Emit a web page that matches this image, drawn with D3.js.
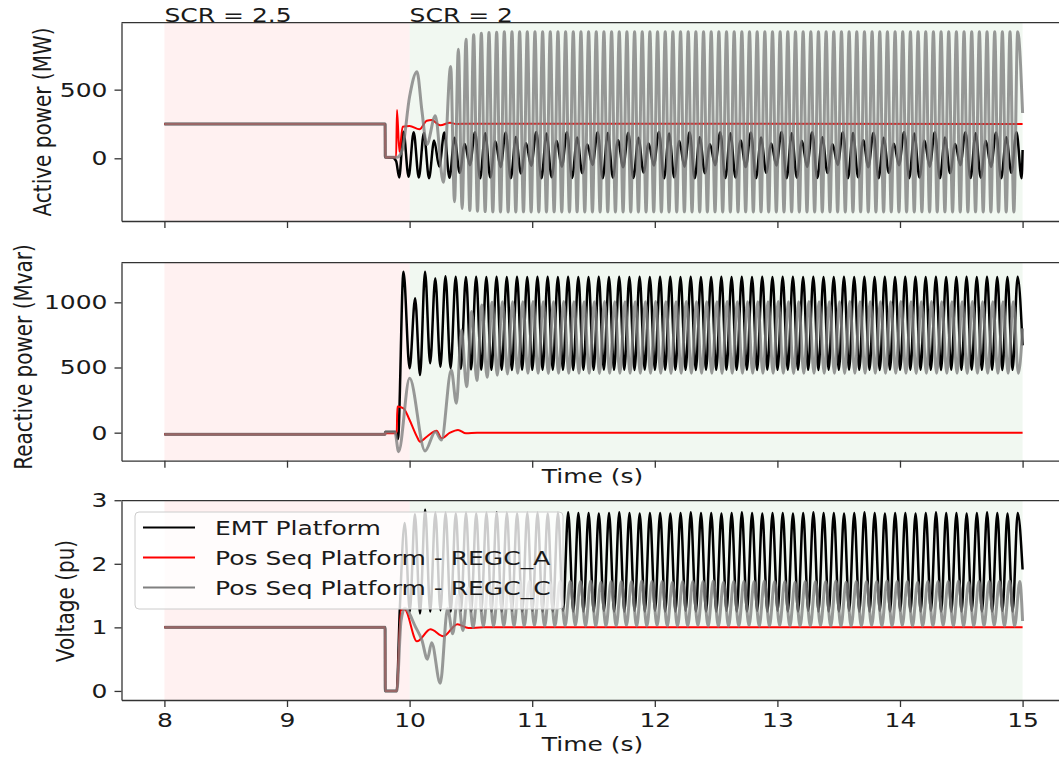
<!DOCTYPE html>
<html>
<head>
<meta charset="utf-8">
<script src="https://cdn.jsdelivr.net/npm/d3@7"></script>
<style>
  body { margin: 0; background: #fff; }
  svg text { font-family: "DejaVu Sans", sans-serif; }
</style>
</head>
<body>
<div id="chart"></div>
<script>
// ---- labels and ticks ----
const seriesNames = ['EMT Platform', 'Pos Seq Platform - REGC_A', 'Pos Seq Platform - REGC_C'];
const seriesColors = ['#000000', '#ff0000', '#808080'];
const timeTicks = [8, 9, 10, 11, 12, 13, 14, 15];
const pTicks = [0, 500];
const qTicks = [0, 500, 1000];
const vTicks = [0, 1, 2, 3];
const scrStarts = [8, 10];
const scrEnds = [10, 15];
const scrLabels = ['SCR = 2.5', 'SCR = 2'];

// sustained oscillations: extrema one half period apart (12 Hz, REGC_C active power 16 Hz)
const halfPeriod = 0.04167;
const pRegcCHalfPeriod = 0.03125;

// ---- active power (MW) ----
// transient points [time, value]
const pEmtKeys = [[8, 250], [9.8, 250], [9.801, 8], [9.86, 5], [9.89, -20], [9.915, -140]];
const pEmtStart = 9.95;
const pEmtSwing = [
  194, -134, 190, -140, 185, -146, 130, -60, 188, -142, 150, -105,
  105, -50, 190, -146, 182, -140, 125, -65, 188, -145, 155, -110,
  110, -55, 191, -146, 180, -138, 128, -62, 189, -144, 152, -108,
  100, -48, 190, -145, 184, -141, 132, -66, 187, -143, 150, -104,
  108, -52, 192, -146, 181, -139, 126, -61, 190, -145, 154, -109,
  103, -50, 189, -144, 183, -140, 130, -64, 188, -146, 151, -106,
  107, -53, 191, -145, 182, -141, 127, -63, 189, -144, 153, -107,
  102, -49, 190, -146, 185, -139, 131, -65, 187, -145, 150, -105,
  106, -51, 192, -145, 181, -140, 129, -62, 190, -146, 152, -108,
  104, -50, 190, -144, 183, -141, 128, -64, 188, -145, 154, -106,
  190, -145
];
const pEmtEnd = [15, 60];

const pRegcAKeys = [[8, 250], [9.8, 250], [9.801, 8], [9.89, 8], [9.897, 352], [9.917, 48], [9.943, 230],
  [10.0, 235], [10.08, 211], [10.14, 274], [10.18, 279], [10.25, 240], [10.33, 259], [10.38, 250],
  [10.5, 252], [15, 250]];

const pRegcCKeys = [[8, 250], [9.8, 250], [9.801, 8], [9.9, 8], [9.94, 60], [10.0, 450], [10.06, 631],
  [10.1, 350], [10.14, 100], [10.21, 310], [10.275, -175]];
const pRegcCStart = 10.335;
const pRegcCSwing = [
  668, -316, 794, -365, 867, -380, 899, -385, 910, -388, 916, -390, 919, -391, 921, -391,
  922, -391, 921, -390, 922, -391, 922, -391, 921, -391, 922, -390, 922, -391, 921, -391,
  922, -390, 922, -391, 921, -391, 922, -391, 922, -390, 921, -391, 922, -391, 922, -391,
  921, -391, 922, -391, 922, -390, 921, -391, 922, -391, 922, -391, 921, -390, 922, -391,
  922, -391, 921, -391, 922, -390, 922, -391, 921, -391, 922, -391, 922, -390, 921, -391,
  922, -390, 922, -391, 921, -391, 922, -391, 922, -390, 921, -391, 922, -391, 922, -391,
  921, -391, 922, -390, 922, -391, 921, -391, 922, -391, 922, -390, 921, -391, 922, -391,
  922, -391, 921, -390, 922, -391, 922, -391, 921, -391, 922, -390, 922, -391, 921, -391,
  922, -390, 922, -391, 921, -391, 922, -391, 922, -390, 921, -391, 922, -391, 922, -391,
  922, -391, 921, -391, 922
];
const pRegcCEnd = [15, 330];

// ---- reactive power (Mvar) ----
const qEmtKeys = [[8, -12], [9.8, -12], [9.801, 5], [9.89, 5], [9.905, -50], [9.95, 1235],
  [10.0, 494], [10.045, 1031], [10.085, 442]];
const qEmtStart = 10.126;
const qEmtSwing = [
  1235, 532, 1184, 506, 1200, 495, 1196, 490, 1195, 486, 1196, 484,
  1195, 482, 1197, 483, 1194, 481, 1196, 484, 1195, 482, 1196, 483,
  1196, 483, 1195, 482, 1197, 481, 1195, 483, 1194, 482, 1196, 484,
  1195, 482, 1197, 483, 1194, 481, 1196, 484, 1195, 482, 1196, 483,
  1196, 483, 1195, 482, 1197, 481, 1195, 483, 1194, 482, 1196, 484,
  1195, 482, 1197, 483, 1194, 481, 1196, 484, 1195, 482, 1196, 483,
  1196, 483, 1195, 482, 1197, 481, 1195, 483, 1194, 482, 1196, 484,
  1195, 482, 1197, 483, 1194, 481, 1196, 484, 1195, 482, 1196, 483,
  1196, 483, 1195, 482, 1197, 481, 1195, 483, 1194, 482, 1196, 484,
  1195, 482, 1196, 483, 1194, 481, 1195, 482, 1196
];
const qEmtEnd = [15, 670];

const qRegcAKeys = [[8, -12], [9.8, -12], [9.801, -5], [9.895, -5], [9.9, 200], [9.95, 187], [10.0, 97],
  [10.06, -31], [10.085, -69], [10.14, -31], [10.22, 15], [10.26, -43], [10.33, 0], [10.395, 21],
  [10.46, -5], [10.55, 0], [15, 0]];

const qRegcCKeys = [[8, -12], [9.8, -12], [9.801, 5], [9.88, 5], [9.91, -146], [10.0, 417],
  [10.126, -140], [10.21, 8], [10.26, -56]];
const qRegcCStart = 10.34;
const qRegcCSwing = [
  481, 225, 788, 353, 930, 400, 980, 425, 1000, 440, 1005, 450,
  1005, 455, 1004, 456, 1006, 455, 1005, 454, 1004, 455, 1006, 456,
  1004, 455, 1005, 456, 1005, 454, 1006, 455, 1004, 456, 1005, 455,
  1005, 455, 1004, 456, 1006, 455, 1005, 454, 1004, 455, 1006, 456,
  1004, 455, 1005, 456, 1005, 454, 1006, 455, 1004, 456, 1005, 455,
  1005, 455, 1004, 456, 1006, 455, 1005, 454, 1004, 455, 1006, 456,
  1004, 455, 1005, 456, 1005, 454, 1006, 455, 1004, 456, 1005, 455,
  1005, 455, 1004, 456, 1006, 455, 1005, 454, 1004, 455, 1006, 456,
  1004, 455, 1005, 456, 1005, 454, 1006, 455, 1004, 456, 1005, 455,
  1005, 455, 1004, 456
];
const qRegcCEnd = [15, 800];

// ---- voltage (pu) ----
const vEmtKeys = [[8, 1], [9.8, 1], [9.801, 0], [9.895, 0], [9.92, 1.28]];
const vEmtStart = 9.96;
const vEmtSwing = [
  2.64, 1.25, 2.78, 1.22, 2.85, 1.25, 2.8, 1.27, 2.8, 1.25, 2.79, 1.26,
  2.8, 1.25, 2.79, 1.26, 2.8, 1.25, 2.81, 1.25, 2.8, 1.26, 2.79, 1.25,
  2.8, 1.26, 2.8, 1.25, 2.79, 1.25, 2.8, 1.26, 2.81, 1.25, 2.8, 1.25,
  2.8, 1.25, 2.79, 1.26, 2.8, 1.25, 2.81, 1.25, 2.8, 1.26, 2.79, 1.25,
  2.8, 1.26, 2.8, 1.25, 2.79, 1.25, 2.8, 1.26, 2.81, 1.25, 2.8, 1.25,
  2.8, 1.25, 2.79, 1.26, 2.8, 1.25, 2.81, 1.25, 2.8, 1.26, 2.79, 1.25,
  2.8, 1.26, 2.8, 1.25, 2.79, 1.25, 2.8, 1.26, 2.81, 1.25, 2.8, 1.25,
  2.8, 1.25, 2.79, 1.26, 2.8, 1.25, 2.81, 1.25, 2.8, 1.26, 2.79, 1.25,
  2.8, 1.26, 2.8, 1.25, 2.79, 1.25, 2.8, 1.26, 2.81, 1.25, 2.8, 1.25,
  2.8, 1.25, 2.79, 1.26, 2.8, 1.25, 2.81, 1.25, 2.8, 1.26, 2.79, 1.25,
  2.8
];
const vEmtEnd = [15, 1.91];

const vRegcAKeys = [[8, 1], [9.8, 1], [9.801, 0], [9.895, 0], [9.93, 1.27], [9.96, 1.28], [10.06, 0.78],
  [10.17, 0.97], [10.275, 0.86], [10.39, 1.05], [10.48, 0.99], [10.6, 1.0], [15, 1]];

const vRegcCKeys = [[8, 1], [9.8, 1], [9.801, 0], [9.895, 0], [9.93, 1.1], [9.96, 1.3], [10.05, 1.0],
  [10.1, 0.8], [10.145, 0.5], [10.18, 0.76], [10.25, 0.12]];
const vRegcCStart = 10.31;
const vRegcCSwing = [
  1.3, 0.9, 1.5, 0.95, 1.62, 1.0, 1.68, 1.02, 1.71, 1.02, 1.72, 1.02,
  1.72, 1.02, 1.73, 1.02, 1.72, 1.03, 1.72, 1.02, 1.71, 1.02, 1.72, 1.02,
  1.72, 1.03, 1.72, 1.02, 1.73, 1.02, 1.71, 1.02, 1.72, 1.02, 1.72, 1.03,
  1.72, 1.02, 1.73, 1.02, 1.72, 1.03, 1.72, 1.02, 1.71, 1.02, 1.72, 1.02,
  1.72, 1.03, 1.72, 1.02, 1.73, 1.02, 1.71, 1.02, 1.72, 1.02, 1.72, 1.03,
  1.72, 1.02, 1.73, 1.02, 1.72, 1.03, 1.72, 1.02, 1.71, 1.02, 1.72, 1.02,
  1.72, 1.03, 1.72, 1.02, 1.73, 1.02, 1.71, 1.02, 1.72, 1.02, 1.72, 1.03,
  1.72, 1.02, 1.73, 1.02, 1.72, 1.03, 1.72, 1.02, 1.71, 1.02, 1.72, 1.02,
  1.72, 1.03, 1.72, 1.02, 1.73, 1.02, 1.71, 1.02, 1.72, 1.02, 1.72, 1.03,
  1.72, 1.02, 1.73, 1.02, 1.72
];
const vRegcCEnd = [15, 1.1];

// join transient points, the run of extrema and the last sample into one series
function buildSeries(keys, start, half, swing, end) {
  const pts = keys.map(([t, v]) => ({ t, v }));
  if (swing) {
    swing.forEach((v, i) => pts.push({ t: start + i * half, v }));
    pts.push({ t: end[0], v: end[1] });
  }
  return pts;
}

const panels = [
  {
    label: 'Active power (MW)', ticks: pTicks, top: 22.7, bottom: 221, labelX: 50.5, labelY: 122,
    series: [
      buildSeries(pEmtKeys, pEmtStart, halfPeriod, pEmtSwing, pEmtEnd),
      buildSeries(pRegcAKeys),
      buildSeries(pRegcCKeys, pRegcCStart, pRegcCHalfPeriod, pRegcCSwing, pRegcCEnd),
    ],
  },
  {
    label: 'Reactive power (Mvar)', ticks: qTicks, top: 262.7, bottom: 460.7, labelX: 32, labelY: 357,
    series: [
      buildSeries(qEmtKeys, qEmtStart, halfPeriod, qEmtSwing, qEmtEnd),
      buildSeries(qRegcAKeys),
      buildSeries(qRegcCKeys, qRegcCStart, halfPeriod, qRegcCSwing, qRegcCEnd),
    ],
  },
  {
    label: 'Voltage (pu)', ticks: vTicks, top: 500.7, bottom: 700, labelX: 73.5, labelY: 601,
    series: [
      buildSeries(vEmtKeys, vEmtStart, halfPeriod, vEmtSwing, vEmtEnd),
      buildSeries(vRegcAKeys),
      buildSeries(vRegcCKeys, vRegcCStart, halfPeriod, vRegcCSwing, vRegcCEnd),
    ],
  },
];

const width = 1059;
const height = 758;
const left = 121.5;
const right = 1065.5;
const spanFills = ['#ff0000', '#008000'];
const strokeWidths = [2.5, 2, 3];
const strokeOpacity = [1, 1, 0.8];
const textStretch = 1.25; // the figure is wider than its font: glyphs are stretched sideways
const tickGap = 14; // tick length + padding

// matplotlib style 5% margin around the data
function padded([lo, hi]) {
  const m = (hi - lo) * 0.05;
  return [lo - m, hi + m];
}

// horizontal text, stretched like the source figure
function addText(parent, x, y, str, anchor) {
  return parent.append('text')
    .attr('transform', `translate(${x},${y}) scale(${textStretch},1)`)
    .attr('text-anchor', anchor || 'start')
    .attr('font-size', 20)
    .attr('fill', '#1a1a1a')
    .text(str);
}

const svg = d3.select('#chart').append('svg')
  .attr('width', width)
  .attr('height', height);

const x = d3.scaleLinear()
  .domain(padded([timeTicks[0], timeTicks[timeTicks.length - 1]]))
  .range([left, right]);

panels.forEach((panel, i) => {
  const allValues = panel.series.flatMap(s => s.map(d => d.v));
  const y = d3.scaleLinear()
    .domain(padded(d3.extent(allValues)))
    .range([panel.bottom, panel.top]);

  const g = svg.append('g');

  g.append('clipPath').attr('id', `clip${i}`)
    .append('rect')
    .attr('x', left).attr('y', panel.top)
    .attr('width', right - left).attr('height', panel.bottom - panel.top);

  // SCR shaded spans
  g.selectAll('rect.span')
    .data(scrStarts)
    .enter()
    .append('rect')
    .attr('class', 'span')
    .attr('x', d => x(d))
    .attr('width', (d, k) => x(scrEnds[k]) - x(d))
    .attr('y', panel.top)
    .attr('height', panel.bottom - panel.top)
    .attr('fill', (d, k) => spanFills[k])
    .attr('fill-opacity', 0.055);

  const line = d3.line()
    .x(d => x(d.t))
    .y(d => y(d.v))
    .curve(d3.curveMonotoneX);

  g.append('g')
    .attr('clip-path', `url(#clip${i})`)
    .selectAll('path')
    .data(panel.series)
    .enter()
    .append('path')
    .attr('d', line)
    .attr('fill', 'none')
    .attr('stroke', (d, k) => seriesColors[k])
    .attr('stroke-width', (d, k) => strokeWidths[k])
    .attr('stroke-opacity', (d, k) => strokeOpacity[k])
    .attr('stroke-linejoin', 'round');

  // axes
  const yAxis = g.append('g')
    .attr('transform', `translate(${left},0)`)
    .call(d3.axisLeft(y).tickValues(panel.ticks).tickSize(7).tickPadding(7).tickSizeOuter(0)
      .tickFormat(d3.format('d')));

  const xAxis = g.append('g')
    .attr('transform', `translate(0,${panel.bottom})`)
    .call(d3.axisBottom(x).tickValues(timeTicks).tickSize(7).tickPadding(6).tickSizeOuter(0)
      .tickFormat(i === 2 ? d3.format('d') : () => ''));

  g.append('line')
    .attr('x1', left).attr('x2', right)
    .attr('y1', panel.top).attr('y2', panel.top)
    .attr('stroke', '#333').attr('stroke-width', 1.3);

  [yAxis, xAxis].forEach(ax => {
    ax.attr('font-family', null).attr('font-size', null);
    ax.selectAll('.domain, .tick line').attr('stroke', '#333').attr('stroke-width', 1.3);
    ax.selectAll('.tick text')
      .attr('font-size', 20)
      .attr('fill', '#1a1a1a')
      .attr('transform', `scale(${textStretch},1)`);
  });
  yAxis.selectAll('.tick text').attr('x', -tickGap / textStretch);

  g.append('text')
    .attr('transform', `translate(${panel.labelX},${panel.labelY}) scale(${textStretch},1) rotate(-90)`)
    .attr('text-anchor', 'middle')
    .attr('font-size', 20)
    .attr('fill', '#1a1a1a')
    .text(panel.label);

  if (i > 0) {
    addText(g, (left + right) / 2 - 1, i === 1 ? 483 : 751, 'Time (s)', 'middle');
  }

  if (i === 0) {
    scrLabels.forEach((lbl, k) => addText(g, x(scrStarts[k]), 21.5, lbl));
  }
});

// legend in the voltage panel
const legend = svg.append('g').attr('transform', 'translate(135,512)');
legend.append('rect')
  .attr('width', 428)
  .attr('height', 97)
  .attr('rx', 4)
  .attr('fill', '#fff')
  .attr('fill-opacity', 0.8)
  .attr('stroke', '#cccccc')
  .attr('stroke-width', 1);

const entry = legend.selectAll('g.entry')
  .data(seriesNames)
  .enter()
  .append('g')
  .attr('class', 'entry')
  .attr('transform', (d, k) => `translate(0,${15.5 + k * 30})`);

entry.append('line')
  .attr('x1', 8).attr('x2', 60)
  .attr('stroke', (d, k) => seriesColors[k])
  .attr('stroke-width', 2.2);

entry.each(function (d) {
  addText(d3.select(this), 80, 7.3, d);
});
</script>
</body>
</html>
